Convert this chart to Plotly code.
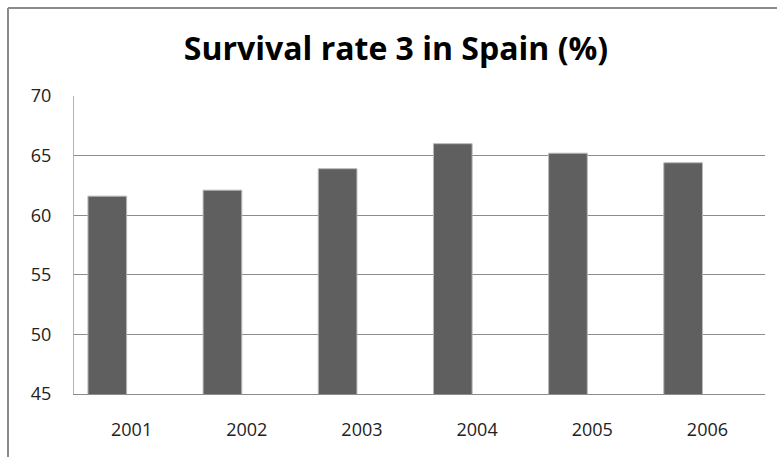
import plotly.graph_objects as go

# Survival rate data
years = ["2001", "2002", "2003", "2004", "2005", "2006"]
survival_rate = [61.6, 62.1, 63.9, 66.0, 65.2, 64.4]
y_ticks = [45, 50, 55, 60, 65, 70]

W, H = 777, 457
ML, MR, MT, MB = 74, 12, 96, 63
pw, ph = W - ML - MR, H - MT - MB

def px_to_paper_x(px):
    return (px - ML) / pw

def px_to_paper_y(py):
    return (H - MB - py) / ph

fig = go.Figure()
fig.add_trace(go.Bar(
    x=years,
    y=survival_rate,
    base=0,
    width=0.336,
    offset=-0.379,
    marker=dict(color="#5f5f5f", line=dict(color="#b8b8b8", width=1)),
    hoverinfo="x+y",
))

# outer chart frame (top and left edges)
frame = dict(type="line", xref="paper", yref="paper",
             line=dict(color="#8a8a8a", width=2), layer="above")
fig.add_shape(**frame, x0=px_to_paper_x(8), x1=px_to_paper_x(W + 5),
              y0=px_to_paper_y(8), y1=px_to_paper_y(8))
fig.add_shape(**frame, x0=px_to_paper_x(8), x1=px_to_paper_x(8),
              y0=px_to_paper_y(8), y1=px_to_paper_y(H + 5))

fig.update_layout(
    width=W, height=H,
    margin=dict(l=ML, r=MR, t=MT, b=MB, pad=0),
    paper_bgcolor="white",
    plot_bgcolor="white",
    showlegend=False,
    title=dict(
        text="<b>Survival rate 3 in Spain (%)</b>",
        x=396 / W, xanchor="center",
        y=1 - 49 / H, yanchor="middle",
        font=dict(family="Open Sans", size=32, color="#000000"),
    ),
    font=dict(family="Open Sans", size=18, color="#222222"),
)
fig.update_xaxes(
    type="category",
    showgrid=False,
    showline=True, linecolor="#8c8c8c", linewidth=1,
    ticks="outside", ticklen=19, tickcolor="rgba(0,0,0,0)",
    tickfont=dict(size=18, color="#222222"),
    fixedrange=True,
)
fig.update_yaxes(
    range=[45, 70],
    tickvals=y_ticks,
    showgrid=True, gridcolor="#8c8c8c", gridwidth=1,
    showline=True, linecolor="#b4b4b4", linewidth=1,
    zeroline=False,
    ticks="outside", ticklen=18, tickcolor="rgba(0,0,0,0)",
    tickfont=dict(size=18, color="#222222"),
    fixedrange=True,
)

fig.write_html("out.html", config={"displayModeBar": False})
